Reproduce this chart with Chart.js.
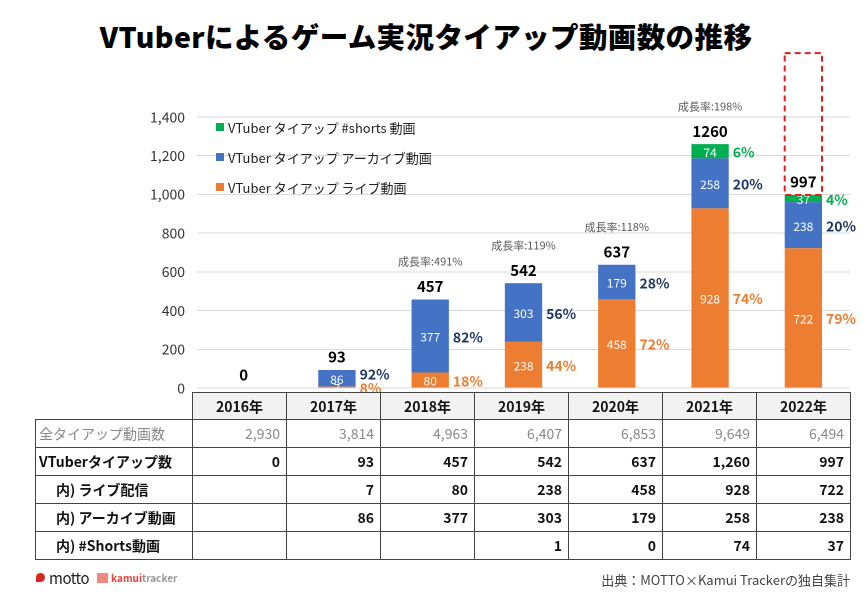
<!DOCTYPE html>
<html>
<head>
<meta charset="utf-8">
<script src="https://cdn.jsdelivr.net/npm/chart.js@4.4.0/dist/chart.umd.min.js"></script>
<style>
  html, body { margin:0; padding:0; background:#fff; width:868px; height:605px; overflow:hidden;
    font-family:"Noto Sans CJK JP","Noto Sans",sans-serif; }
  #title { position:absolute; left:0; top:15px; width:852px; text-align:center; font-size:28.5px; font-weight:900; color:#000; letter-spacing:0.4px; }
  #chart { position:absolute; left:0; top:0; }
  #legend { position:absolute; left:216px; top:112px; font-size:13px; color:#222; }
  #legend .item { height:30px; display:flex; align-items:center; white-space:nowrap; }
  #legend .sw { width:8px; height:8px; margin-right:4px; }
  #tbl { position:absolute; left:35px; top:392px; border-collapse:collapse; font-size:14px; }
  #tbl td { border:1px solid #444; padding:0 6px; height:27px; line-height:27px; text-align:right; font-weight:bold; color:#111; white-space:nowrap; }
  #tbl tr.hdr td { background:#f2f2f2; text-align:center; height:26px; line-height:26px; }
  #tbl tr.hdr td.blank { background:none; border:none; }
  #tbl td.lbl { text-align:left; width:147px; padding-left:3px; }
  #tbl td.ind { padding-left:20px; width:130px; }
  #tbl td.num { width:81px; }
  #tbl tr.all td { color:#8a8a8a; font-weight:normal; }
  #source { position:absolute; right:18px; top:570px; font-size:13px; color:#444; }
  #logos { position:absolute; left:36px; top:567px; display:flex; align-items:center; font-size:14px; }
</style>
</head>
<body>
<div id="title">VTuberによるゲーム実況タイアップ動画数の推移</div>
<canvas id="chart" width="868" height="605"></canvas>
<div id="legend"></div>
<table id="tbl"></table>
<div id="logos">
  <span style="display:inline-block;width:9px;height:9px;border-radius:50% 50% 50% 0;background:#d9261c;margin-right:4px;"></span>
  <span style="color:#222;font-size:15px;letter-spacing:-0.5px;">motto</span>
  <span style="display:inline-block;width:11px;height:10px;background:#f08a80;margin:0 3px 0 8px;"></span>
  <span style="color:#e8453c;font-size:10px;font-weight:bold;">kamui</span><span style="color:#999;font-size:10px;font-weight:bold;">tracker</span>
</div>
<div id="source">出典：MOTTO×Kamui Trackerの独自集計</div>

<script>
// ---- data ----
const years = ['2016年','2017年','2018年','2019年','2020年','2021年','2022年'];
const allTieups = ['2,930','3,814','4,963','6,407','6,853','9,649','6,494'];
const vtuberTotal = [0, 93, 457, 542, 637, 1260, 997];
const liveVideos = [null, 7, 80, 238, 458, 928, 722];
const archiveVideos = [null, 86, 377, 303, 179, 258, 238];
const shortsVideos = [null, null, null, 1, 0, 74, 37];
const livePct = [null, '8%', '18%', '44%', '72%', '74%', '79%'];
const archivePct = [null, '92%', '82%', '56%', '28%', '20%', '20%'];
const shortsPct = [null, null, null, null, null, '6%', '4%'];
const growthRate = [null, null, '491%', '119%', '118%', '198%', null];
const yTicks = [0, 200, 400, 600, 800, 1000, 1200, 1400];
const dashedBoxYear = '2022年';
const dashedBoxRange = [997, 1730];

const seriesNames = ['VTuber タイアップ ライブ動画', 'VTuber タイアップ アーカイブ動画', 'VTuber タイアップ #shorts 動画'];
const colors = ['#ED7D31', '#4472C4', '#00B050'];
const pctColors = ['#ED7D31', '#1F3864', '#00B050'];
const FONT = '"Noto Sans CJK JP","Noto Sans",sans-serif';

// ---- legend (HTML) ----
const legend = document.getElementById('legend');
[2,1,0].forEach(i => {
  const d = document.createElement('div'); d.className = 'item';
  d.innerHTML = '<span class="sw" style="background:' + colors[i] + '"></span>' + seriesNames[i];
  legend.appendChild(d);
});

// ---- table ----
const fmt = v => (v === null || v === undefined) ? '' : v.toLocaleString('en-US');
const tbl = document.getElementById('tbl');
let html = '<tr class="hdr"><td class="blank"></td>' + years.map(y => '<td class="num">' + y + '</td>').join('') + '</tr>';
html += '<tr class="all"><td class="lbl">全タイアップ動画数</td>' + allTieups.map(v => '<td>' + v + '</td>').join('') + '</tr>';
html += '<tr><td class="lbl">VTuberタイアップ数</td>' + vtuberTotal.map(v => '<td>' + fmt(v) + '</td>').join('') + '</tr>';
html += '<tr><td class="lbl ind">内) ライブ配信</td>' + liveVideos.map(v => '<td>' + fmt(v) + '</td>').join('') + '</tr>';
html += '<tr><td class="lbl ind">内) アーカイブ動画</td>' + archiveVideos.map(v => '<td>' + fmt(v) + '</td>').join('') + '</tr>';
html += '<tr><td class="lbl ind">内) #Shorts動画</td>' + shortsVideos.map(v => '<td>' + fmt(v) + '</td>').join('') + '</tr>';
tbl.innerHTML = html;

// ---- label plugin ----
const labelPlugin = {
  id: 'labels',
  afterDatasetsDraw(chart) {
    const ctx = chart.ctx;
    const ys = chart.scales.y;
    const metas = [0,1,2].map(i => chart.getDatasetMeta(i));
    const pcts = [livePct, archivePct, shortsPct];
    ctx.save();
    // inner values
    metas.forEach((meta, di) => {
      meta.data.forEach((el, i) => {
        const v = chart.data.datasets[di].data[i];
        if (v === null || v < 5) return;
        ctx.fillStyle = '#fff';
        ctx.font = '12px ' + FONT;
        ctx.textAlign = 'center'; ctx.textBaseline = 'middle';
        ctx.fillText(String(v), el.x, (el.y + el.base) / 2 + 1);
      });
    });
    // percentage labels
    years.forEach((y, i) => {
      const items = [];
      metas.forEach((meta, di) => {
        const p = pcts[di][i];
        if (!p) return;
        const el = meta.data[i];
        items.push({ text: p, color: pctColors[di], x: el.x + el.width / 2 + 4, y: (el.y + el.base) / 2 });
      });
      for (let k = 1; k < items.length; k++) {
        if (items[k-1].y - items[k].y < 14) items[k].y = items[k-1].y - 14;
      }
      items.forEach(it => {
        ctx.fillStyle = it.color;
        ctx.font = 'bold 14px ' + FONT;
        ctx.textAlign = 'left'; ctx.textBaseline = 'middle';
        ctx.fillText(it.text, it.x, it.y + 1);
      });
    });
    // totals and growth
    const xs = chart.scales.x;
    years.forEach((y, i) => {
      const x = xs.getPixelForValue(i);
      const top = ys.getPixelForValue(vtuberTotal[i]);
      ctx.fillStyle = '#000';
      ctx.font = 'bold 15px ' + FONT;
      ctx.textAlign = 'center'; ctx.textBaseline = 'middle';
      ctx.fillText(String(vtuberTotal[i]), x, top - 13);
      if (growthRate[i]) {
        ctx.fillStyle = '#595959';
        ctx.font = '11px ' + FONT;
        ctx.fillText('成長率:' + growthRate[i], x, top - 38);
      }
    });
    // dashed box
    const bi = years.indexOf(dashedBoxYear);
    const el = metas[0].data[bi];
    const y1 = ys.getPixelForValue(dashedBoxRange[0]);
    const y2 = ys.getPixelForValue(dashedBoxRange[1]);
    ctx.strokeStyle = '#E02020';
    ctx.lineWidth = 2;
    ctx.setLineDash([6, 4]);
    ctx.strokeRect(el.x - el.width / 2, y2, el.width, y1 - y2);
    ctx.restore();
  }
};

new Chart(document.getElementById('chart'), {
  type: 'bar',
  data: {
    labels: years,
    datasets: [
      { label: seriesNames[0], data: liveVideos, backgroundColor: colors[0] },
      { label: seriesNames[1], data: archiveVideos, backgroundColor: colors[1] },
      { label: seriesNames[2], data: shortsVideos, backgroundColor: colors[2] }
    ]
  },
  options: {
    responsive: false,
    animation: false,
    devicePixelRatio: 2,
    layout: { padding: { left: 0, right: 18, top: 117, bottom: 217 } },
    datasets: { bar: { categoryPercentage: 1, barPercentage: 0.4 } },
    plugins: { legend: { display: false }, tooltip: { enabled: false } },
    scales: {
      x: { stacked: true, display: false },
      y: {
        stacked: true, min: 0, max: 1400,
        afterFit: (a) => { a.width = 197; },
        afterBuildTicks: (a) => { a.ticks = yTicks.map(v => ({ value: v })); },
        ticks: { padding: 12, color: '#333', font: { size: 14, family: FONT },
          callback: (v) => Number(v).toLocaleString('en-US') },
        grid: { color: '#d9d9d9', drawTicks: false },
        border: { display: false }
      }
    }
  },
  plugins: [labelPlugin]
});
</script>
</body>
</html>
